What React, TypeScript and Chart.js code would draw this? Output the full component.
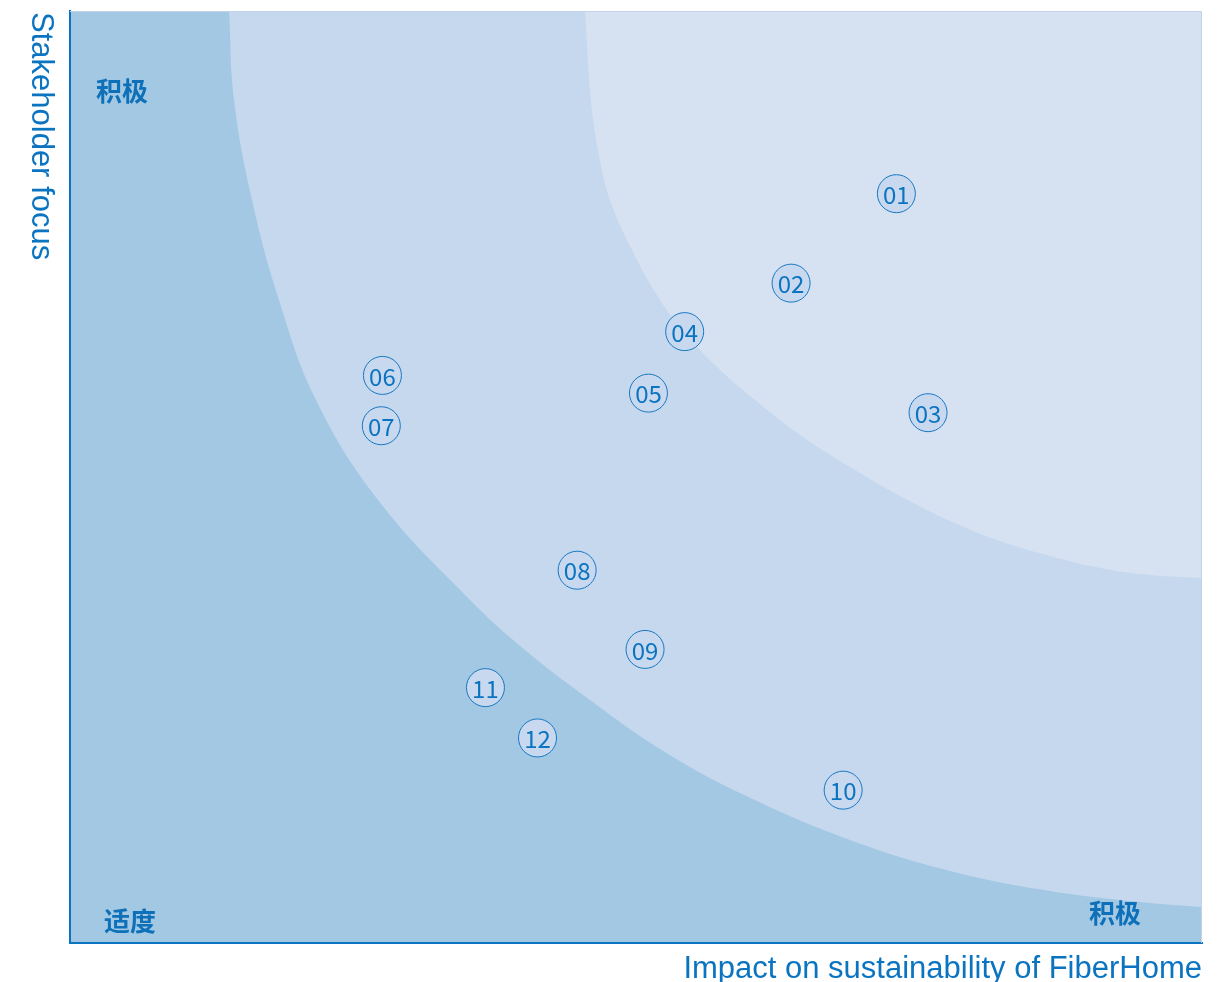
import React, { useEffect, useRef } from "react";
import { Chart, registerables } from "chart.js";

Chart.register(...registerables);

// Issue markers
const pointLabels = ["01", "02", "03", "04", "05", "06", "07", "08", "09", "10", "11", "12"];
const impactValues = [73.0, 63.7, 75.8, 54.3, 51.1, 27.6, 27.5, 44.8, 50.8, 68.3, 36.7, 41.3];
const focusValues = [80.4, 70.8, 56.9, 65.6, 59.0, 60.9, 55.5, 40.0, 31.5, 16.4, 27.4, 22.0];

// Zone boundaries
const middleZoneX = [14.05, 14.49, 16.08, 18.46, 21.73, 27.21, 35.34, 40.19, 45.94, 52.12, 59.19, 68.9, 77.74, 86.57, 95.41, 100];
const middleZoneY = [100, 90.45, 79.72, 68.99, 58.26, 47.53, 36.8, 31.44, 26.07, 20.82, 16.09, 11.05, 7.73, 5.58, 4.29, 3.86];
const innerZoneX = [45.49, 46.02, 46.64, 47.7, 49.65, 52.12, 54.33, 57.16, 60.51, 64.49, 68.9, 73.32, 77.74, 82.16, 86.57, 90.99, 95.41, 100];
const innerZoneY = [100, 90.45, 85.09, 79.72, 74.36, 68.99, 65.45, 61.8, 58.26, 54.51, 51.07, 47.96, 45.28, 43.13, 41.52, 40.24, 39.48, 39.16];

const xTitle = "Impact on sustainability of FiberHome";
const yTitle = "Stakeholder focus";
const cornerHigh = "积极";
const cornerLow = "适度";

const BLUE = "#0b74c1";
const LABEL_BLUE = "#0d70b8";
const OUTER = "#a2c8e4";
const MIDDLE = "#c5d8ed";
const INNER = "#d6e2f2";
const EDGE = "#c3d3e7";

const W = 1227;
const H = 982;

export default function App() {
  const ref = useRef<HTMLCanvasElement | null>(null);

  useEffect(() => {
    if (!ref.current) return;

    const bgPlugin = {
      id: "bg",
      beforeDraw(chart: any) {
        const { ctx, chartArea: a } = chart;
        ctx.save();
        ctx.fillStyle = OUTER;
        ctx.fillRect(a.left, a.top, a.right - a.left, a.bottom - a.top);
        ctx.restore();
      },
    };

    const labelPlugin = {
      id: "labels",
      afterDatasetsDraw(chart: any) {
        const { ctx, chartArea: a } = chart;
        // faint top/right frame
        ctx.save();
        ctx.strokeStyle = EDGE;
        ctx.lineWidth = 1;
        ctx.beginPath();
        ctx.moveTo(a.left, a.top + 0.5);
        ctx.lineTo(a.right - 0.5, a.top + 0.5);
        ctx.lineTo(a.right - 0.5, a.bottom);
        ctx.stroke();
        ctx.restore();

        const meta = chart.getDatasetMeta(0);
        ctx.save();
        ctx.fillStyle = BLUE;
        ctx.font = '400 24px "Noto Sans CJK SC", "Noto Sans", sans-serif';
        ctx.textAlign = "center";
        ctx.textBaseline = "middle";
        meta.data.forEach((el: any, i: number) => {
          ctx.fillText(pointLabels[i], el.x, el.y + 1);
        });
        ctx.restore();
      },
      afterDraw(chart: any) {
        const { ctx, chartArea: a } = chart;
        ctx.save();
        // corner labels
        ctx.fillStyle = LABEL_BLUE;
        ctx.font = 'bold 26px "Noto Sans CJK SC", sans-serif';
        ctx.textBaseline = "middle";
        ctx.textAlign = "left";
        ctx.fillText(cornerHigh, a.left + 26, a.top + 80);
        ctx.fillText(cornerLow, a.left + 34, a.bottom - 22);
        ctx.fillText(cornerHigh, a.right - 113, a.bottom - 30);
        // axis titles
        ctx.fillStyle = BLUE;
        ctx.font = '31px "Liberation Sans", Arial, sans-serif';
        ctx.textBaseline = "alphabetic";
        ctx.textAlign = "right";
        ctx.fillText(xTitle, a.right, a.bottom + 35);
        ctx.translate(a.left - 38, a.top + 1);
        ctx.rotate(Math.PI / 2);
        ctx.textAlign = "left";
        ctx.fillText(yTitle, 0, 0);
        ctx.restore();
      },
    };

    const hidden = {
      grid: { display: false, drawTicks: false },
      ticks: { display: false },
      min: 0,
      max: 100,
      type: "linear" as const,
      z: 1,
      border: { display: true, color: BLUE, width: 2 },
    };

    const chart = new Chart(ref.current, {
      type: "scatter",
      data: {
        datasets: [
          {
            type: "scatter",
            data: impactValues.map((x, i) => ({ x, y: focusValues[i] })),
            pointRadius: 19,
            pointHoverRadius: 19,
            pointBackgroundColor: "#c8d8ef",
            pointBorderColor: "#1878c2",
            pointBorderWidth: 1,
          } as any,
          {
            type: "line",
            data: innerZoneX.map((x, i) => ({ x, y: innerZoneY[i] })),
            fill: "end",
            backgroundColor: INNER,
            borderColor: "rgba(0,0,0,0)",
            borderWidth: 0,
            pointRadius: 0,
            tension: 0.4,
          } as any,
          {
            type: "line",
            data: middleZoneX.map((x, i) => ({ x, y: middleZoneY[i] })),
            fill: "end",
            backgroundColor: MIDDLE,
            borderColor: "rgba(0,0,0,0)",
            borderWidth: 0,
            pointRadius: 0,
            tension: 0.4,
          } as any,
        ],
      },
      options: {
        animation: false,
        responsive: false,
        maintainAspectRatio: false,
        events: [],
        layout: { autoPadding: false, padding: { left: 70, top: 11, right: 25, bottom: 39 } },
        plugins: { legend: { display: false }, tooltip: { enabled: false } },
        scales: {
          x: { ...hidden, position: "bottom" },
          y: { ...hidden, position: "left" },
        },
      } as any,
      plugins: [bgPlugin, labelPlugin],
    });

    return () => chart.destroy();
  }, []);

  return (
    <div style={{ position: "fixed", left: 0, top: 0, width: W, height: H, overflow: "hidden" }}>
      <canvas ref={ref} width={W} height={H} style={{ display: "block", width: W, height: H }} />
    </div>
  );
}
